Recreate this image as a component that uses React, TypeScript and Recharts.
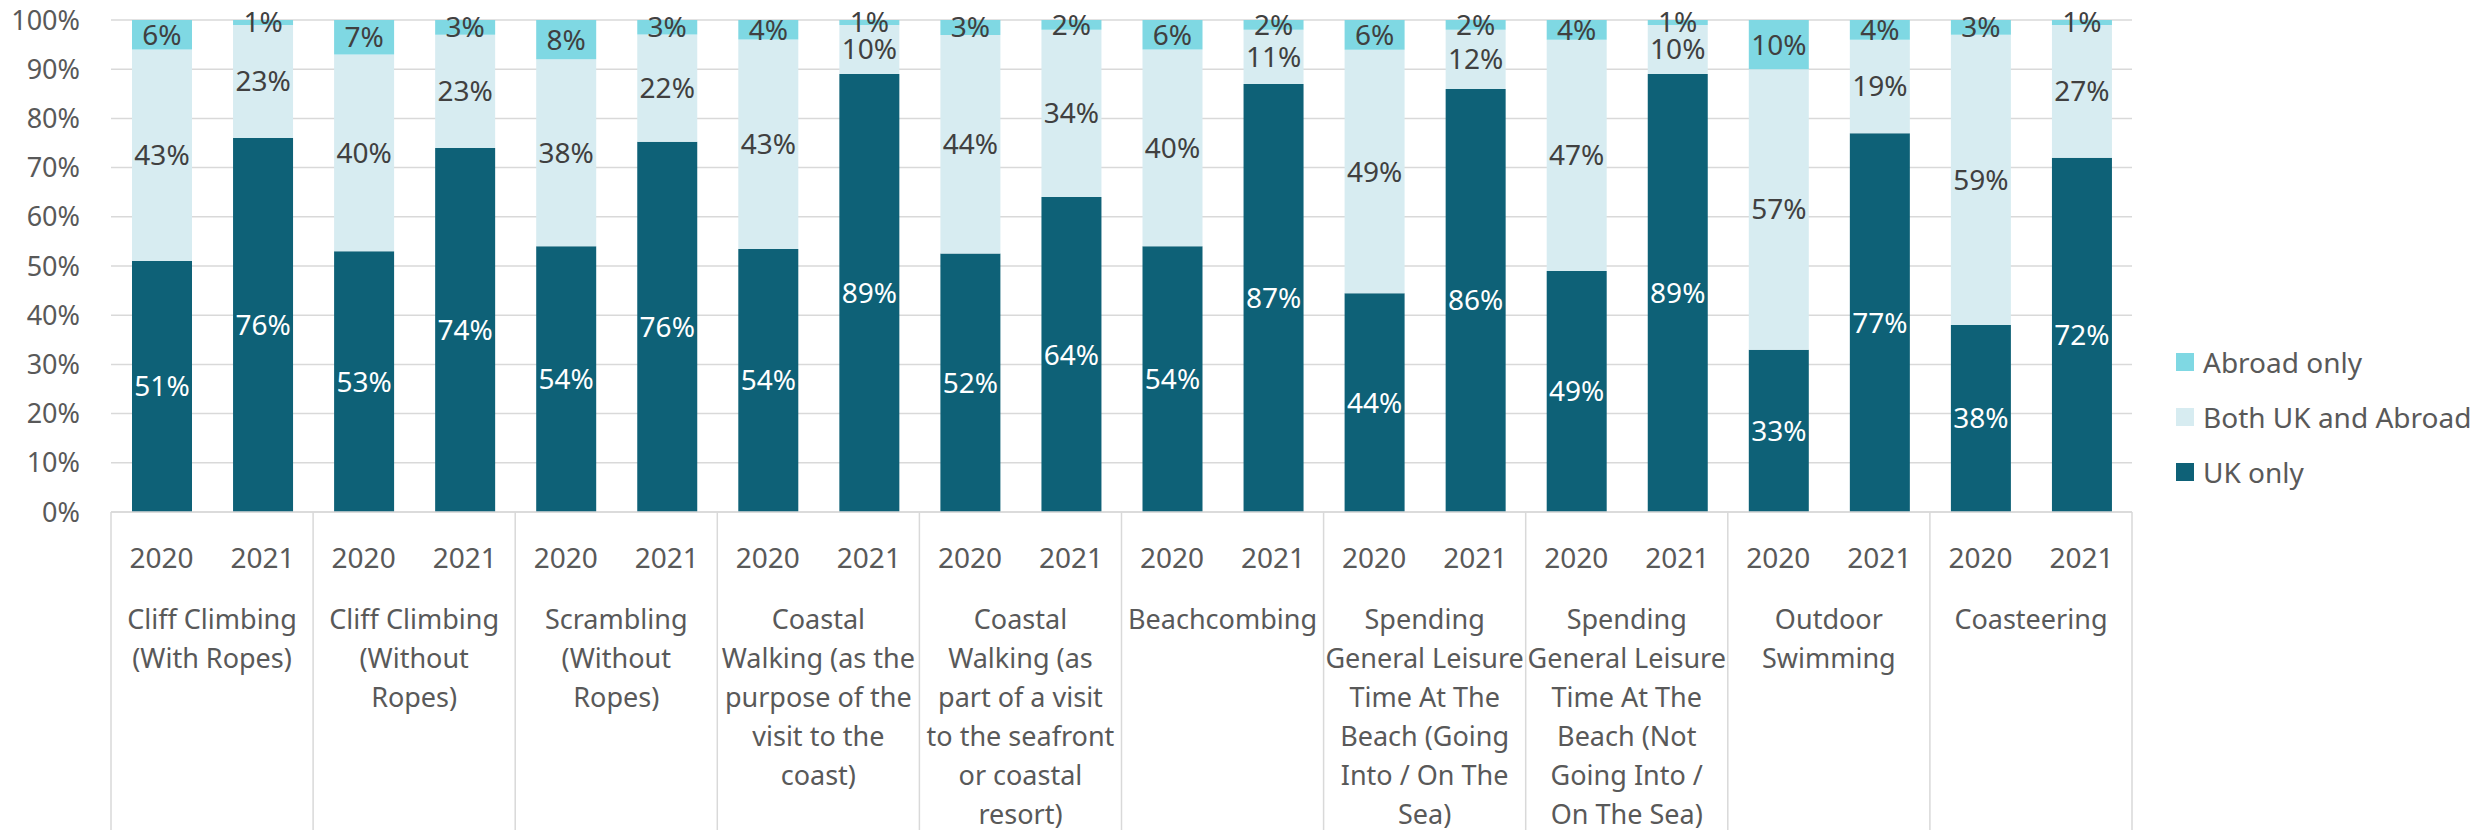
import { BarChart, Bar, XAxis, YAxis, CartesianGrid, LabelList, Legend } from "recharts";

if (typeof document !== "undefined") document.body.style.margin = "0";

const categories: string[][] = [
  ["Cliff Climbing", "(With Ropes)"],
  ["Cliff Climbing", "(Without", "Ropes)"],
  ["Scrambling", "(Without", "Ropes)"],
  ["Coastal", "Walking (as the", "purpose of the", "visit to the", "coast)"],
  ["Coastal", "Walking (as", "part of a visit", "to the seafront", "or coastal", "resort)"],
  ["Beachcombing"],
  ["Spending", "General Leisure", "Time At The", "Beach (Going", "Into / On The", "Sea)"],
  ["Spending", "General Leisure", "Time At The", "Beach (Not", "Going Into /", "On The Sea)"],
  ["Outdoor", "Swimming"],
  ["Coasteering"],
];
const years = ["2020", "2021"];

// one value per bar: category 1 (2020, 2021), category 2 (2020, 2021), ...
const ukOnly = [51, 76, 53, 74, 54, 76, 54, 89, 52, 64, 54, 87, 44, 86, 49, 89, 33, 77, 38, 72];
const bothUkAbroad = [43, 23, 40, 23, 38, 22, 43, 10, 44, 34, 40, 11, 49, 12, 47, 10, 57, 19, 59, 27];
const abroadOnly = [6, 1, 7, 3, 8, 3, 4, 1, 3, 2, 6, 2, 6, 2, 4, 1, 10, 4, 3, 1];

const yTicks = [0, 0.1, 0.2, 0.3, 0.4, 0.5, 0.6, 0.7, 0.8, 0.9, 1];

const series = [
  { key: "abroad", name: "Abroad only", color: "#7FD8E3" },
  { key: "both", name: "Both UK and Abroad", color: "#D7ECF1" },
  { key: "uk", name: "UK only", color: "#0E6177" },
];

const data = ukOnly.map((uk, i) => ({
  id: String(i),
  year: years[i % 2],
  category: Math.floor(i / 2),
  uk,
  both: bothUkAbroad[i],
  abroad: abroadOnly[i],
}));

const W = 2486;
const H = 830;
const PLOT_BOTTOM = 512;
const margin = { top: 20, right: 354, bottom: 0, left: 11 };
const Y_W = 100;
const PLOT_W = W - margin.left - margin.right - Y_W;
const FONT = "'Noto Sans', sans-serif";
const TEXT = "#595959";
const LINE = "#D9D9D9";

function XTick(props: any) {
  const { x, y, payload } = props;
  const i = Number(payload.value);
  const row = data[i];
  const slot = PLOT_W / data.length;
  const lines = categories[row.category];
  return (
    <g>
      <text
        x={x}
        y={y + 45}
        textAnchor="middle"
        dominantBaseline="central"
        fill={TEXT}
        fontSize={28}
        fontFamily={FONT}
      >
        {row.year}
      </text>
      {i % 2 === 0 && (
        <line x1={x - slot / 2} x2={x - slot / 2} y1={y} y2={H} stroke={LINE} strokeWidth={1.5} />
      )}
      {i === data.length - 1 && (
        <line x1={x + slot / 2} x2={x + slot / 2} y1={y} y2={H} stroke={LINE} strokeWidth={1.5} />
      )}
      {i % 2 === 0 && (
        <text textAnchor="middle" fill={TEXT} fontSize={27} fontFamily={FONT}>
          {lines.map((l, k) => (
            <tspan key={k} x={x + slot / 2} y={y + 106 + k * 39} dominantBaseline="central">
              {l}
            </tspan>
          ))}
        </text>
      )}
    </g>
  );
}

function LegendBox() {
  return (
    <div style={{ fontFamily: FONT, fontSize: 28, color: TEXT }}>
      {series.map((s) => (
        <div key={s.key} style={{ display: "flex", alignItems: "center", height: 55, whiteSpace: "nowrap" }}>
          <span style={{ width: 18, height: 18, background: s.color, marginRight: 9, display: "inline-block" }} />
          {s.name}
        </div>
      ))}
    </div>
  );
}

export default function App() {
  return (
    <div style={{ width: W, height: H, background: "#fff" }}>
      <BarChart width={W} height={H} data={data} margin={margin} stackOffset="expand" barSize={60}>
        <CartesianGrid vertical={false} stroke={LINE} strokeWidth={1.5} />
        <XAxis
          dataKey="id"
          interval={0}
          height={H - PLOT_BOTTOM}
          tickLine={false}
          tickSize={0}
          tickMargin={0}
          axisLine={{ stroke: LINE, strokeWidth: 1.5 }}
          tick={<XTick />}
        />
        <YAxis
          width={Y_W}
          domain={[0, 1]}
          ticks={yTicks}
          axisLine={false}
          tickLine={false}
          tickSize={0}
          tickMargin={31}
          tickFormatter={(v: number) => `${Math.round(v * 100)}%`}
          tick={{ fontSize: 27, fill: TEXT, fontFamily: FONT }}
        />
        <Legend
          layout="vertical"
          align="center"
          verticalAlign="middle"
          wrapperStyle={{ position: "absolute", left: 2176, top: 334, width: 310 }}
          content={() => <LegendBox />}
        />
        <Bar dataKey="uk" name="UK only" stackId="a" fill="#0E6177" isAnimationActive={false}>
          <LabelList
            dataKey="uk"
            position="center"
            formatter={(v: any) => `${v}%`}
            fill="#FFFFFF"
            fontSize={28}
            fontFamily={FONT}
          />
        </Bar>
        <Bar dataKey="both" name="Both UK and Abroad" stackId="a" fill="#D7ECF1" isAnimationActive={false}>
          <LabelList
            dataKey="both"
            position="center"
            formatter={(v: any) => `${v}%`}
            fill="#404040"
            fontSize={28}
            fontFamily={FONT}
          />
        </Bar>
        <Bar dataKey="abroad" name="Abroad only" stackId="a" fill="#7FD8E3" isAnimationActive={false}>
          <LabelList
            dataKey="abroad"
            position="center"
            formatter={(v: any) => `${v}%`}
            fill="#404040"
            fontSize={28}
            fontFamily={FONT}
          />
        </Bar>
      </BarChart>
    </div>
  );
}
